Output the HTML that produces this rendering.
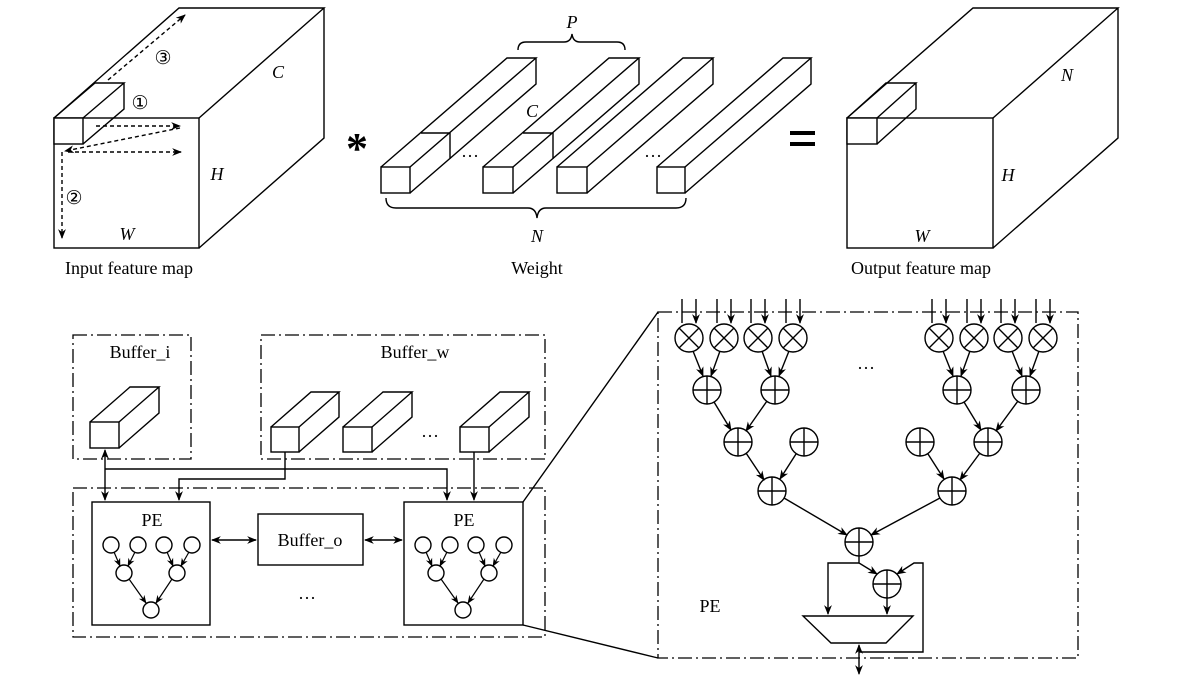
<!DOCTYPE html>
<html><head><meta charset="utf-8"><style>
html,body{margin:0;padding:0;background:#fff;}
svg{display:block;}
text{font-family:"Liberation Serif",serif;fill:#000;}
.i{font-style:italic;}
</style></head><body>
<svg width="1199" height="682" viewBox="0 0 1199 682" xmlns="http://www.w3.org/2000/svg">
<defs>
<marker id="a" viewBox="0 0 10 10" refX="9" refY="5" markerWidth="7" markerHeight="7" orient="auto-start-reverse"><path d="M0 1 L10 5 L0 9 L3 5 Z" fill="#000"/></marker>
</defs>
<g fill="none" stroke="#000" stroke-width="1.4">
<rect x="54" y="118" width="145" height="130"/>
<path d="M54 118 L179 8 L324 8 L199 118 M324 8 L324 138 L199 248"/>
<rect x="54" y="118" width="29" height="26" fill="#fff"/>
<path d="M54 118 L95 83 L124 83 L83 118 M124 83 L124 109 L83 144"/>
<g stroke-dasharray="4 3" marker-end="url(#a)">
<path d="M108 80 L185 15"/>
<path d="M96 126 L180 126"/>
<path d="M180 128 L65 151"/>
<path d="M68 152 L181 152"/>
<path d="M62 152 L62 238"/>
</g>
<rect x="381" y="167" width="29" height="26"/>
<path d="M381 167 L507 58 L536 58 L410 167 M536 58 L536 84 L410 193 M421 133 L450 133 L450 159"/>
<rect x="483" y="167" width="30" height="26"/>
<path d="M483 167 L609 58 L639 58 L513 167 M639 58 L639 84 L513 193 M523 133 L553 133 L553 159"/>
<rect x="557" y="167" width="30" height="26"/>
<path d="M557 167 L683 58 L713 58 L587 167 M713 58 L713 84 L587 193"/>
<rect x="657" y="167" width="28" height="26"/>
<path d="M657 167 L783 58 L811 58 L685 167 M811 58 L811 84 L685 193"/>
<path d="M518 50 Q518 42 526 42 L564 42 Q571 42 572 34 Q573 42 580 42 L617 42 Q625 42 625 50"/>
<path d="M386 198 Q386 208 396 208 L528 208 Q536 208 537 218 Q538 208 546 208 L676 208 Q686 208 686 198"/>
<rect x="847" y="118" width="146" height="130"/>
<path d="M847 118 L973 8 L1118 8 L993 118 M1118 8 L1118 138 L993 248"/>
<rect x="847" y="118" width="30" height="26" fill="#fff"/>
<path d="M847 118 L886 83 L916 83 L877 118 M916 83 L916 109 L877 144"/>

<g stroke-dasharray="14 4 2 4" stroke-width="1.3">
<rect x="73" y="335" width="118" height="124"/>
<rect x="261" y="335" width="284" height="124"/>
<rect x="73" y="488" width="472" height="149"/>
<rect x="658" y="312" width="420" height="346"/>
</g>
<rect x="90" y="422" width="29" height="26"/>
<path d="M90 422 L130 387 L159 387 L119 422 M159 387 L159 413 L119 448"/>
<rect x="271" y="427" width="28" height="25"/>
<path d="M271 427 L311 392 L339 392 L299 427 M339 392 L339 417 L299 452"/>
<rect x="343" y="427" width="29" height="25"/>
<path d="M343 427 L383 392 L412 392 L372 427 M412 392 L412 417 L372 452"/>
<rect x="460" y="427" width="29" height="25"/>
<path d="M460 427 L500 392 L529 392 L489 427 M529 392 L529 417 L489 452"/>
<rect x="92" y="502" width="118" height="123"/>
<rect x="258" y="514" width="105" height="51"/>
<rect x="404" y="502" width="119" height="123"/>
<path d="M105 450 L105 500" marker-start="url(#a)" marker-end="url(#a)"/>
<path d="M105 469 L447 469 L447 500" marker-end="url(#a)"/>
<path d="M285 452 L285 479 L179 479 L179 500" marker-end="url(#a)"/>
<path d="M474 452 L474 500" marker-end="url(#a)"/>
<path d="M212 540 L256 540" marker-start="url(#a)" marker-end="url(#a)"/>
<path d="M365 540 L402 540" marker-start="url(#a)" marker-end="url(#a)"/>
<path d="M523 502 L658 312 M523 625 L658 658"/>
<g id="t">
<circle cx="111" cy="545" r="8"/><circle cx="138" cy="545" r="8"/><circle cx="164" cy="545" r="8"/><circle cx="192" cy="545" r="8"/>
<circle cx="124" cy="573" r="8"/><circle cx="177" cy="573" r="8"/><circle cx="151" cy="610" r="8"/>
<g marker-end="url(#a)" stroke-width="1.2">
<path d="M114 552 L120 566"/><path d="M135 552 L128 566"/><path d="M167 552 L173 566"/><path d="M189 552 L181 566"/>
<path d="M129 579 L146 603"/><path d="M172 579 L156 603"/>
</g>
</g>
<use href="#t" x="312"/>

<g id="m">
<circle cx="689" cy="338" r="14"/><path d="M679 328 L699 348 M699 328 L679 348"/>
<path d="M682 299 L682 323 M696 299 L696 323" marker-end="url(#a)"/>
</g>
<use href="#m" x="35"/><use href="#m" x="69"/><use href="#m" x="104"/>
<use href="#m" x="250"/><use href="#m" x="285"/><use href="#m" x="319"/><use href="#m" x="354"/>
<g id="p"><circle cx="707" cy="390" r="14"/><path d="M693 390 L721 390 M707 376 L707 404"/></g>
<use href="#p" x="68"/><use href="#p" x="250"/><use href="#p" x="319"/>
<use href="#p" x="31" y="52"/><use href="#p" x="97" y="52"/><use href="#p" x="213" y="52"/><use href="#p" x="281" y="52"/>
<use href="#p" x="65" y="101"/><use href="#p" x="245" y="101"/>
<use href="#p" x="152" y="152"/><use href="#p" x="180" y="194"/>
<g marker-end="url(#a)">
<path d="M693 351 L703 376"/><path d="M720 351 L711 376"/><path d="M762 351 L771 376"/><path d="M789 351 L779 376"/>
<path d="M943 351 L953 376"/><path d="M970 351 L961 376"/><path d="M1012 351 L1022 376"/><path d="M1039 351 L1030 376"/>
<path d="M714 402 L731 430"/><path d="M767 401 L746 431"/><path d="M964 402 L981 430"/><path d="M1018 401 L996 431"/>
<path d="M746 453 L764 480"/><path d="M796 454 L780 479"/><path d="M928 454 L944 479"/><path d="M980 453 L960 480"/>
<path d="M784 498 L847 535"/><path d="M940 498 L871 535"/>
<path d="M859 556 L859 563 L877 574"/>
<path d="M859 563 L828 563 L828 614"/>
<path d="M887 598 L887 614"/>
<path d="M859 652 L923 652 L923 563 L914 563 L897 574"/>
</g>
<path d="M803 616 L913 616 L886 643 L831 643 Z"/>
<path d="M859 645 L859 674" marker-start="url(#a)" marker-end="url(#a)"/>
</g>
<g font-size="18">
<text x="163" y="64" text-anchor="middle" font-size="19">③</text>
<text x="140" y="109" text-anchor="middle" font-size="19">①</text>
<text x="74" y="204" text-anchor="middle" font-size="19">②</text>
<text class="i" x="278" y="78" text-anchor="middle">C</text>
<text class="i" x="217" y="180" text-anchor="middle">H</text>
<text class="i" x="127" y="240" text-anchor="middle">W</text>
<text x="129" y="274" text-anchor="middle">Input feature  map</text>
<text x="357" y="163" text-anchor="middle" font-size="44" font-family="Liberation Sans,sans-serif" font-weight="bold">*</text>
<text class="i" x="532" y="117" text-anchor="middle">C</text>
<text class="i" x="572" y="28" text-anchor="middle">P</text>
<text class="i" x="537" y="242" text-anchor="middle">N</text>
<text x="537" y="274" text-anchor="middle">Weight</text>
<text x="470" y="162" text-anchor="middle">···</text>
<text x="653" y="162" text-anchor="middle">···</text>
<text class="i" x="1067" y="81" text-anchor="middle">N</text>
<text class="i" x="1008" y="181" text-anchor="middle">H</text>
<text class="i" x="922" y="242" text-anchor="middle">W</text>
<text x="921" y="274" text-anchor="middle">Output feature  map</text>
<text x="140" y="358" text-anchor="middle">Buffer_i</text>
<text x="415" y="358" text-anchor="middle">Buffer_w</text>
<text x="430" y="442" text-anchor="middle">···</text>
<text x="152" y="526" text-anchor="middle">PE</text>
<text x="464" y="526" text-anchor="middle">PE</text>
<text x="310" y="546" text-anchor="middle">Buffer_o</text>
<text x="307" y="604" text-anchor="middle">···</text>
<text x="866" y="374" text-anchor="middle">···</text>
<text x="710" y="612" text-anchor="middle">PE</text>
</g>
<rect x="790" y="131" width="25" height="4" fill="#000"/>
<rect x="790" y="142" width="25" height="4" fill="#000"/>
</svg>
</body></html>
